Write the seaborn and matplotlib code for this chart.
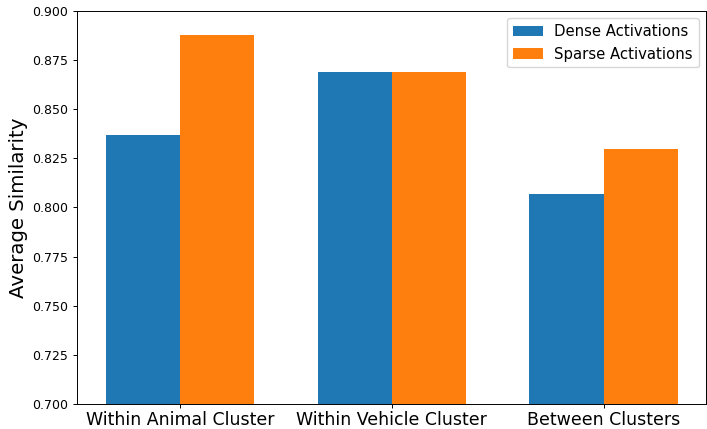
import matplotlib
matplotlib.use("Agg")
import matplotlib.pyplot as plt
import pandas as pd
import seaborn as sns

# Values
categories = ["Within Animal Cluster", "Within Vehicle Cluster", "Between Clusters"]
dense_values = [0.8366, 0.8686, 0.8067]
sparse_values = [0.8875, 0.8691, 0.8295]
series_names = ["Dense Activations", "Sparse Activations"]
colors = ["#1f77b4", "#ff7f0e"]

df = pd.DataFrame({
    "category": categories * 2,
    "similarity": dense_values + sparse_values,
    "kind": [series_names[0]] * len(categories) + [series_names[1]] * len(categories),
})

fig, ax = plt.subplots(figsize=(7.07, 4.29), dpi=100)
fig.subplots_adjust(left=0.109, right=0.999, top=0.975, bottom=0.058)

sns.barplot(data=df, x="category", y="similarity", hue="kind",
            palette=colors, saturation=1, width=0.7, ax=ax, errorbar=None)

ax.set_ylim(0.7, 0.9)
ax.set_xlim(-0.485, 2.485)
ax.set_xlabel("")
ax.set_ylabel("Average Similarity", fontsize=14.2, labelpad=3.5)
ax.tick_params(axis="x", labelsize=12.5, length=3.1, width=0.7, pad=2.2)
ax.tick_params(axis="y", labelsize=9, length=3.1, width=0.7, pad=3.1)
for spine in ax.spines.values():
    spine.set_linewidth(0.7)
ax.legend(loc="upper right", fontsize=10.7)

plt.savefig("out.png", dpi=100)
